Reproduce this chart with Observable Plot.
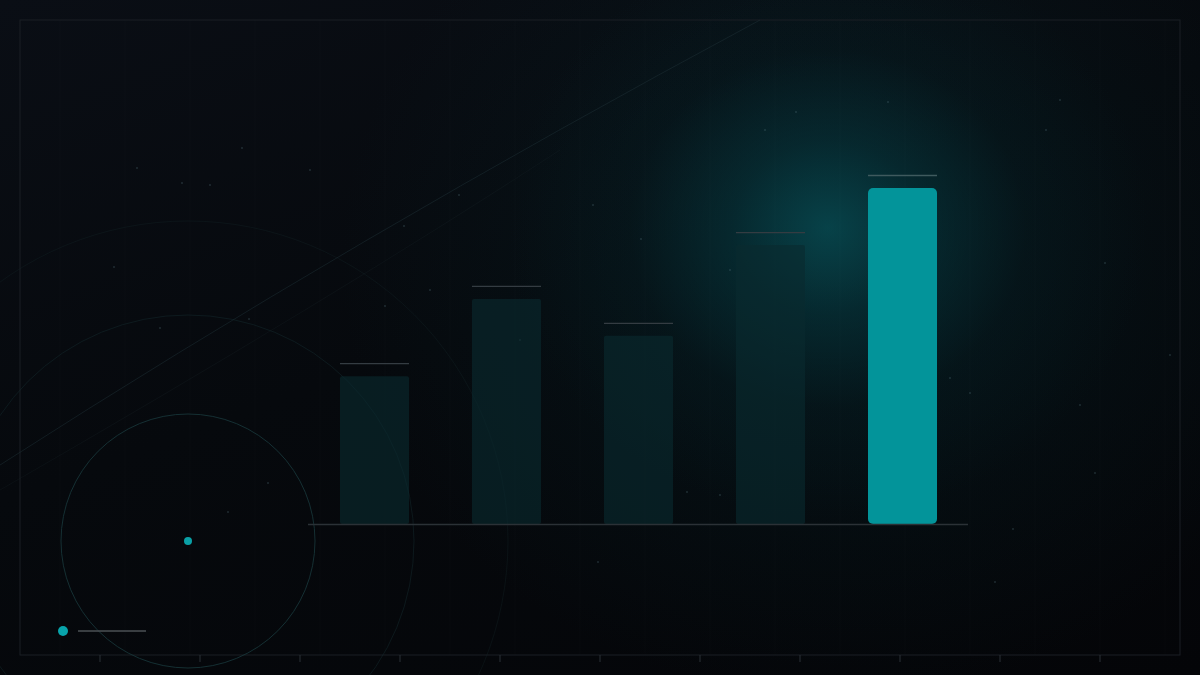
<!DOCTYPE html>
<html>
<head>
<meta charset="utf-8">
<script src="https://cdn.jsdelivr.net/npm/d3@7"></script>
<script src="https://cdn.jsdelivr.net/npm/@observablehq/plot@0.6"></script>
<style>
  html, body { margin: 0; padding: 0; background: #05070b; }
  #wrap {
    position: relative; width: 1200px; height: 675px; overflow: hidden;
    background:
      radial-gradient(ellipse 320px 290px at 828px 228px, rgba(8,94,102,0.62) 0%, rgba(6,72,80,0.40) 30%, rgba(5,45,52,0.16) 62%, rgba(5,30,36,0) 100%),
      radial-gradient(ellipse 500px 440px at 840px 260px, rgba(6,38,44,0.42) 0%, rgba(6,30,36,0) 100%),
      linear-gradient(160deg, #0a0e15 0%, #06090d 45%, #040508 100%);
  }
  #decor, #chart { position: absolute; left: 0; top: 0; }
  #chart svg { background: transparent; }
</style>
</head>
<body>
<div id="wrap">
  <svg id="decor" width="1200" height="675"></svg>
  <div id="chart"></div>
</div>
<script>
// ---- data ----
const categories = ["A", "B", "C", "D", "E"];
const values = [44, 67, 56, 83, 100];
const highlighted = [false, false, false, false, true];

const data = categories.map((c, i) => ({cat: c, value: values[i], hl: highlighted[i]}));

// ---- decorative background ----
const decor = d3.select("#decor");
// faint grid
for (let x = 60; x < 1180; x += 65) {
  decor.append("line").attr("x1", x).attr("x2", x).attr("y1", 20).attr("y2", 655)
    .attr("stroke", "#ffffff").attr("stroke-opacity", 0.014);
}
for (let y = 60; y < 655; y += 65) {
  decor.append("line").attr("x1", 20).attr("x2", 1180).attr("y1", y).attr("y2", y)
    .attr("stroke", "#ffffff").attr("stroke-opacity", 0.012);
}
// frame
decor.append("rect").attr("x", 20).attr("y", 20).attr("width", 1160).attr("height", 635)
  .attr("fill", "none").attr("stroke", "#1a1f25").attr("stroke-width", 1);
// bottom ticks
d3.range(100, 1101, 100).forEach(x => {
  decor.append("line").attr("x1", x).attr("x2", x).attr("y1", 655).attr("y2", 662)
    .attr("stroke", "#2a3036").attr("stroke-width", 1);
});
// concentric circles
[[127, "#17363a", 0.85], [226, "#142a2e", 0.5], [320, "#142428", 0.35]].forEach(([r, c, o]) => {
  decor.append("circle").attr("cx", 188).attr("cy", 541).attr("r", r)
    .attr("fill", "none").attr("stroke", c).attr("stroke-opacity", o).attr("stroke-width", 1);
});
// faint diagonal lines
decor.append("path").attr("d", "M0,465 Q350,240 760,20")
  .attr("fill", "none").attr("stroke", "#1e2f35").attr("stroke-opacity", 0.5);
decor.append("path").attr("d", "M0,490 Q330,300 560,150")
  .attr("fill", "none").attr("stroke", "#1a282d").attr("stroke-opacity", 0.25);
// scattered dust
const dust = [[137,168],[242,148],[210,185],[182,183],[114,267],[404,226],[459,195],[593,205],
  [641,239],[796,112],[888,102],[1046,130],[1105,263],[1080,405],[1095,473],[950,378],[970,393],
  [1013,529],[995,582],[598,562],[687,492],[268,483],[160,328],[228,512],[249,319],[385,306],
  [730,270],[765,130],[720,495],[1060,100],[1170,355],[430,290],[310,170],[520,340]];
dust.forEach(([x, y]) => {
  decor.append("circle").attr("cx", x).attr("cy", y).attr("r", 1)
    .attr("fill", "#5a7a80").attr("fill-opacity", 0.3);
});
// center dot
decor.append("circle").attr("cx", 188).attr("cy", 541).attr("r", 4).attr("fill", "#0aa0a6");
// legend marker
decor.append("circle").attr("cx", 63).attr("cy", 631).attr("r", 5).attr("fill", "#08a4ab");
decor.append("line").attr("x1", 78).attr("x2", 146).attr("y1", 631).attr("y2", 631)
  .attr("stroke", "#4b5155").attr("stroke-width", 1.3);

// ---- chart ----
const chart = Plot.plot({
  width: 1200,
  height: 675,
  marginLeft: 308,
  marginRight: 232,
  marginTop: 188,
  marginBottom: 151,
  style: {background: "transparent", overflow: "visible"},
  x: {domain: categories, paddingInner: 0.48, paddingOuter: 0.24, axis: null},
  y: {domain: [0, 100], axis: null},
  marks: [
    Plot.barY(data.filter(d => !d.hl), {x: "cat", y: "value", fill: "#0a2a2e", fillOpacity: 0.62, rx: 2}),
    Plot.barY(data.filter(d => d.hl), {x: "cat", y: "value", fill: "#03949a", rx: 5}),
    Plot.tickY(data, {x: "cat", y: "value", dy: -13, stroke: d => d.hl ? "#3f5a5e" : "#343c42", strokeWidth: 1.4}),
    Plot.ruleY([0], {stroke: "#2b3136", strokeWidth: 1.5})
  ]
});
document.getElementById("chart").appendChild(chart);
</script>
</body>
</html>
